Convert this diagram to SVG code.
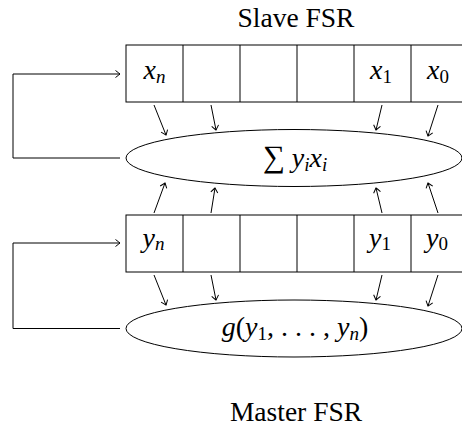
<svg xmlns="http://www.w3.org/2000/svg" width="462" height="428" viewBox="0 0 462 428">
<defs>
<style>
.ln{fill:none;stroke:#000;stroke-width:1}
.ar{fill:none;stroke:#000;stroke-width:1;marker-end:url(#ah)}
.lbl{font-family:"Liberation Serif","DejaVu Serif",serif;font-size:27.5px;fill:#000}
.m{font-family:"Liberation Serif","DejaVu Serif",serif;font-size:28px;font-style:italic;fill:#000}
.up{font-style:normal}
.sub{font-size:19px}
</style>
<marker id="ah" markerUnits="userSpaceOnUse" markerWidth="12" markerHeight="12" viewBox="-6 -6 12 12" refX="0" refY="0" orient="auto" overflow="visible">
<path d="M-4.5,-3.5 Q-1.2,-1 0,0 Q-1.2,1 -4.5,3.5" fill="none" stroke="#000" stroke-width="1"/>
</marker>
</defs>
<rect width="462" height="428" fill="#fff"/>

<g id="slave-label"><text class="lbl" x="296" y="27" text-anchor="middle">Slave FSR</text></g>
<g id="master-label"><text class="lbl" x="296" y="421" text-anchor="middle">Master FSR</text></g>

<g id="slave-register">
<rect class="ln" x="126" y="45" width="342" height="57"/>
<path class="ln" d="M183,45V102M240,45V102M297,45V102M354,45V102M411,45V102"/>
<text class="m" x="154.5" y="79" text-anchor="middle">x<tspan class="sub" dy="4">n</tspan></text>
<text class="m" x="381" y="79" text-anchor="middle">x<tspan class="sub up" dy="4">1</tspan></text>
<text class="m" x="438" y="79" text-anchor="middle">x<tspan class="sub up" dy="4">0</tspan></text>
</g>

<g id="slave-function">
<ellipse class="ln" cx="294" cy="158" rx="168" ry="28.5"/>
<text class="m" x="295" y="167" text-anchor="middle"><tspan class="up" font-size="31">∑</tspan> y<tspan class="sub" dy="4">i</tspan><tspan dy="-4">x</tspan><tspan class="sub" dy="4">i</tspan></text>
</g>

<g id="master-register">
<rect class="ln" x="126" y="215" width="342" height="57"/>
<path class="ln" d="M183,215V272M240,215V272M297,215V272M354,215V272M411,215V272"/>
<text class="m" x="153.5" y="247" text-anchor="middle">y<tspan class="sub" dy="3">n</tspan></text>
<text class="m" x="380" y="247" text-anchor="middle">y<tspan class="sub up" dy="3">1</tspan></text>
<text class="m" x="437" y="247" text-anchor="middle">y<tspan class="sub up" dy="3">0</tspan></text>
</g>

<g id="master-function">
<ellipse class="ln" cx="294" cy="328.5" rx="168" ry="28.5"/>
<text class="m" x="295" y="336" text-anchor="middle">g<tspan class="up">(</tspan>y<tspan class="sub up" dy="4">1</tspan><tspan class="up" dy="-4">, . . . , </tspan>y<tspan class="sub" dy="4">n</tspan><tspan class="up" dy="-4">)</tspan></text>
</g>

<g id="connectors">
<path class="ar" d="M154,105L166,135"/>
<path class="ar" d="M211,105L216,130"/>
<path class="ar" d="M382,105L376,130"/>
<path class="ar" d="M438,105L428,136"/>
<path class="ar" d="M154,213L165,183"/>
<path class="ar" d="M211,213L215,188"/>
<path class="ar" d="M382,213L376,188"/>
<path class="ar" d="M438,213L428,183"/>
<path class="ar" d="M154,275L166,305"/>
<path class="ar" d="M211,275L216,300"/>
<path class="ar" d="M382,275L376,300"/>
<path class="ar" d="M438,275L428,306"/>
<path class="ar" d="M120,158H13V74H120"/>
<path class="ar" d="M120,328.5H13V243H120"/>
</g>
</svg>
